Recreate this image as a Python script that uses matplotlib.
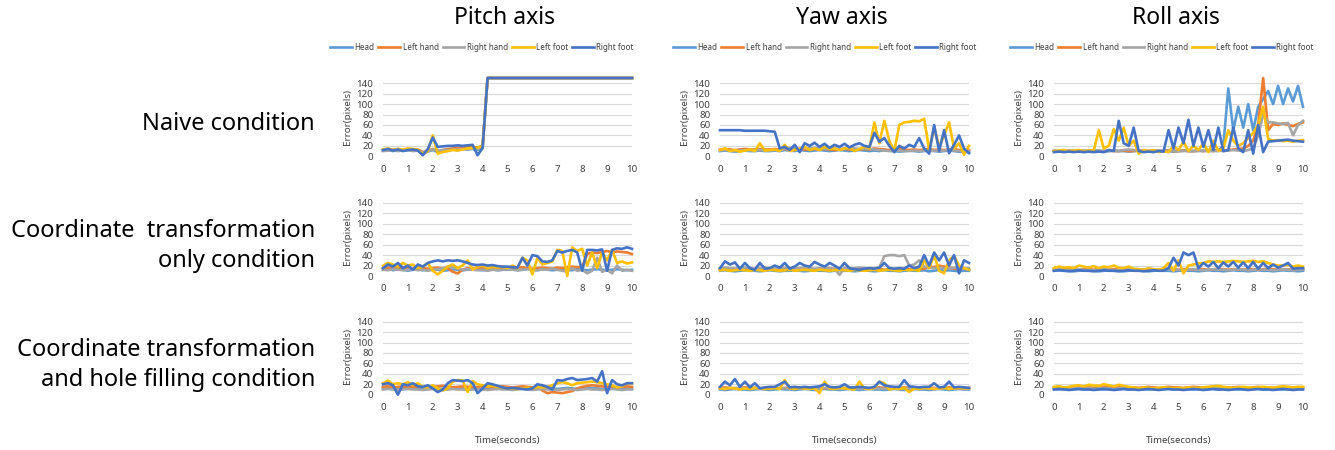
import numpy as np
import matplotlib.pyplot as plt

plt.rcParams['font.family'] = ['Noto Sans', 'DejaVu Sans']

# time axis, one sample every 0.2 s
time_s = np.arange(51) * 0.2

series_names = ["Head", "Left hand", "Right hand", "Left foot", "Right foot"]
series_colors = ["#5B9BD5", "#ED7D31", "#A5A5A5", "#FFC000", "#4472C4"]
axis_titles = ["Pitch axis", "Yaw axis", "Roll axis"]
row_labels = ["Naive condition",
              "Coordinate  transformation\nonly condition",
              "Coordinate transformation\nand hole filling condition"]
y_ticks = [0, 20, 40, 60, 80, 100, 120, 140]
x_ticks = [0, 1, 2, 3, 4, 5, 6, 7, 8, 9, 10]

# ---- naive condition ----
naive_pitch_head = [11, 12, 10, 12, 11, 12, 13, 11, 6, 9,
                    12, 8, 10, 12, 13, 12, 14, 13, 14, 12,
                    16, 150, 150, 150, 150, 150, 150, 150, 150, 150,
                    150, 150, 150, 150, 150, 150, 150, 150, 150, 150,
                    150, 150, 150, 150, 150, 150, 150, 150, 150, 150,
                    150]
naive_pitch_lhand = [12, 13, 12, 14, 12, 13, 12, 13, 8, 11,
                     14, 10, 12, 14, 15, 16, 17, 17, 18, 17,
                     20, 150, 150, 150, 150, 150, 150, 150, 150, 150,
                     150, 150, 150, 150, 150, 150, 150, 150, 150, 150,
                     150, 150, 150, 150, 150, 150, 150, 150, 150, 150,
                     150]
naive_pitch_rhand = [10, 11, 12, 10, 11, 12, 10, 11, 7, 10,
                     13, 11, 12, 12, 13, 13, 14, 14, 15, 14,
                     18, 150, 150, 150, 150, 150, 150, 150, 150, 150,
                     150, 150, 150, 150, 150, 150, 150, 150, 150, 150,
                     150, 150, 150, 150, 150, 150, 150, 150, 150, 150,
                     150]
naive_pitch_lfoot = [13, 15, 12, 14, 13, 15, 14, 12, 4, 10,
                     40, 5, 8, 10, 12, 11, 13, 15, 16, 17,
                     18, 150, 150, 150, 150, 150, 150, 150, 150, 150,
                     150, 150, 150, 150, 150, 150, 150, 150, 150, 150,
                     150, 150, 150, 150, 150, 150, 150, 150, 150, 150,
                     150]
naive_pitch_rfoot = [12, 14, 11, 13, 10, 12, 13, 11, 2, 14,
                     36, 18, 19, 20, 20, 21, 20, 21, 22, 2,
                     16, 150, 150, 150, 150, 150, 150, 150, 150, 150,
                     150, 150, 150, 150, 150, 150, 150, 150, 150, 150,
                     150, 150, 150, 150, 150, 150, 150, 150, 150, 150,
                     150]

naive_yaw_head = [10, 11, 10, 9, 10, 11, 10, 10, 11, 10,
                  10, 11, 10, 12, 11, 10, 12, 11, 10, 11,
                  12, 11, 10, 11, 12, 11, 10, 11, 12, 11,
                  10, 11, 10, 12, 11, 10, 9, 10, 11, 10,
                  9, 10, 11, 10, 9, 10, 11, 10, 9, 8,
                  8]
naive_yaw_lhand = [13, 14, 13, 12, 13, 14, 13, 13, 14, 13,
                   13, 14, 13, 14, 13, 12, 14, 13, 13, 14,
                   13, 14, 13, 12, 13, 14, 13, 14, 13, 14,
                   13, 15, 14, 13, 12, 13, 14, 13, 12, 13,
                   12, 13, 14, 12, 13, 12, 13, 14, 12, 12,
                   12]
naive_yaw_rhand = [11, 12, 11, 10, 11, 12, 11, 11, 12, 11,
                   11, 12, 11, 15, 16, 15, 14, 16, 15, 16,
                   15, 14, 16, 15, 14, 15, 16, 15, 14, 15,
                   14, 13, 12, 11, 10, 10, 11, 10, 10, 11,
                   10, 11, 10, 11, 10, 11, 12, 11, 10, 11,
                   10]
naive_yaw_lfoot = [12, 15, 10, 12, 9, 11, 13, 10, 25, 11,
                   12, 13, 10, 22, 10, 12, 15, 18, 12, 15,
                   12, 18, 14, 15, 12, 15, 16, 10, 14, 18,
                   15, 65, 25, 68, 30, 10, 60, 65, 66, 68,
                   67, 72, 12, 55, 18, 40, 65, 15, 25, 3,
                   20]
naive_yaw_rfoot = [50, 50, 50, 50, 50, 49, 49, 49, 49, 49,
                   48, 47, 15, 18, 12, 22, 8, 25, 20, 26,
                   18, 24, 16, 22, 18, 24, 17, 22, 25, 20,
                   18, 45, 28, 35, 20, 8, 20, 15, 22, 18,
                   35, 15, 5, 60, 10, 50, 6, 22, 40, 15,
                   6]

naive_roll_head = [10, 9, 10, 11, 10, 9, 10, 10, 11, 10,
                   9, 10, 11, 10, 10, 9, 10, 11, 10, 9,
                   10, 10, 11, 10, 9, 10, 11, 10, 10, 11,
                   10, 12, 11, 10, 20, 130, 50, 95, 55, 100,
                   50, 95, 110, 125, 100, 135, 100, 130, 105, 135,
                   95]
naive_roll_lhand = [10, 10, 11, 10, 10, 11, 10, 10, 11, 10,
                    10, 11, 10, 10, 11, 10, 10, 11, 10, 10,
                    11, 10, 10, 11, 10, 10, 11, 10, 10, 11,
                    10, 11, 10, 12, 11, 12, 13, 14, 15, 20,
                    30, 60, 150, 50, 62, 60, 63, 60, 58, 62,
                    65]
naive_roll_rhand = [11, 10, 10, 11, 10, 10, 11, 10, 10, 11,
                    10, 10, 11, 10, 12, 13, 12, 10, 11, 10,
                    10, 11, 10, 10, 11, 10, 10, 11, 10, 10,
                    11, 10, 10, 11, 10, 11, 12, 11, 10, 12,
                    15, 40, 80, 65, 65, 63, 62, 64, 40, 60,
                    68]
naive_roll_lfoot = [10, 11, 12, 10, 11, 12, 10, 11, 12, 50,
                    15, 20, 52, 30, 55, 20, 30, 5, 12, 10,
                    12, 8, 10, 8, 20, 12, 28, 10, 20, 12,
                    25, 8, 30, 10, 15, 50, 30, 20, 25, 35,
                    45, 60, 95, 33, 30, 31, 29, 30, 28, 30,
                    31]
naive_roll_rfoot = [8, 9, 8, 9, 8, 9, 8, 9, 8, 9,
                    8, 12, 10, 68, 25, 20, 55, 10, 8, 9,
                    8, 10, 9, 50, 15, 55, 25, 70, 20, 55,
                    18, 50, 12, 55, 10, 12, 55, 15, 8, 50,
                    5, 60, 8, 28, 29, 30, 31, 32, 30, 29,
                    28]

# ---- coordinate transformation only ----
coord_pitch_head = [12, 14, 11, 13, 12, 10, 12, 13, 11, 12,
                    13, 12, 10, 11, 13, 12, 11, 12, 13, 12,
                    11, 12, 13, 11, 12, 12, 13, 11, 12, 14,
                    12, 11, 13, 12, 11, 12, 14, 12, 11, 13,
                    12, 11, 12, 13, 12, 11, 12, 13, 12, 11,
                    12]
coord_pitch_lhand = [15, 16, 14, 15, 17, 15, 14, 16, 15, 14,
                     15, 16, 14, 15, 8, 5, 12, 15, 14, 16,
                     15, 14, 15, 16, 15, 14, 15, 16, 17, 15,
                     14, 15, 16, 15, 14, 16, 15, 17, 18, 17,
                     18, 42, 45, 44, 46, 48, 45, 47, 46, 45,
                     42]
coord_pitch_rhand = [12, 11, 13, 12, 11, 12, 13, 11, 12, 10,
                     12, 13, 15, 18, 16, 14, 12, 13, 12, 11,
                     12, 10, 12, 11, 12, 13, 12, 11, 12, 13,
                     12, 11, 13, 12, 14, 12, 10, 8, 15, 10,
                     12, 5, 10, 35, 8, 12, 5, 20, 10, 12,
                     10]
coord_pitch_lfoot = [20, 25, 22, 18, 25, 20, 22, 15, 18, 25,
                     10, 3, 10, 18, 22, 15, 20, 30, 12, 18,
                     20, 15, 18, 16, 18, 15, 20, 15, 35, 30,
                     3, 35, 22, 25, 28, 50, 48, 0, 55, 48,
                     52, 20, 45, 15, 45, 30, 50, 25, 28, 24,
                     26]
coord_pitch_rfoot = [15, 22, 18, 25, 15, 20, 12, 22, 18, 25,
                     28, 30, 28, 30, 29, 30, 28, 25, 22, 21,
                     22, 20, 21, 19, 18, 18, 17, 16, 35, 20,
                     40, 38, 28, 27, 30, 48, 45, 48, 50, 45,
                     10, 50, 50, 49, 51, 10, 50, 53, 52, 55,
                     52]

coord_yaw_head = [10, 11, 10, 9, 10, 11, 10, 10, 9, 10,
                  11, 10, 9, 10, 10, 11, 10, 9, 10, 11,
                  10, 10, 9, 10, 11, 10, 10, 9, 10, 11,
                  10, 9, 10, 11, 10, 10, 9, 10, 11, 10,
                  10, 11, 9, 10, 12, 10, 11, 10, 9, 10,
                  10]
coord_yaw_lhand = [13, 12, 13, 14, 13, 12, 13, 12, 14, 13,
                   12, 13, 14, 12, 13, 13, 12, 14, 13, 12,
                   13, 12, 13, 14, 13, 12, 13, 12, 14, 13,
                   12, 13, 14, 12, 13, 13, 12, 14, 13, 12,
                   13, 14, 18, 17, 20, 18, 16, 14, 13, 14,
                   13]
coord_yaw_rhand = [15, 16, 15, 14, 15, 16, 15, 14, 15, 16,
                   15, 14, 15, 16, 15, 14, 15, 16, 15, 14,
                   15, 16, 15, 14, 2, 16, 14, 15, 16, 15,
                   14, 15, 16, 38, 40, 40, 38, 40, 20, 22,
                   30, 18, 16, 15, 16, 15, 14, 16, 15, 14,
                   15]
coord_yaw_lfoot = [11, 12, 10, 11, 12, 11, 10, 12, 11, 10,
                   12, 11, 10, 11, 12, 10, 11, 12, 11, 10,
                   12, 11, 10, 11, 12, 11, 10, 12, 11, 10,
                   11, 12, 10, 11, 12, 11, 10, 12, 11, 12,
                   10, 30, 15, 40, 10, 5, 30, 38, 20, 15,
                   12]
coord_yaw_rfoot = [15, 28, 22, 26, 14, 25, 15, 12, 25, 14,
                   15, 20, 16, 25, 14, 18, 25, 20, 18, 27,
                   22, 18, 25, 20, 14, 25, 15, 13, 12, 14,
                   15, 14, 16, 25, 15, 14, 15, 14, 20, 15,
                   18, 40, 20, 45, 30, 45, 20, 40, 5, 30,
                   25]

coord_roll_head = [10, 11, 10, 10, 9, 10, 11, 10, 10, 9,
                   10, 11, 10, 10, 9, 10, 11, 10, 10, 9,
                   10, 11, 10, 10, 9, 10, 11, 10, 10, 9,
                   10, 11, 10, 10, 9, 10, 11, 10, 10, 9,
                   10, 11, 10, 10, 9, 10, 11, 10, 10, 9,
                   10]
coord_roll_lhand = [13, 12, 13, 14, 13, 12, 13, 13, 12, 14,
                    13, 12, 13, 14, 13, 12, 13, 13, 12, 14,
                    13, 12, 13, 14, 13, 12, 13, 13, 12, 14,
                    13, 12, 13, 14, 13, 12, 13, 13, 12, 14,
                    13, 12, 13, 14, 13, 12, 13, 13, 12, 14,
                    13]
coord_roll_rhand = [12, 13, 12, 11, 12, 13, 12, 12, 11, 12,
                    13, 12, 11, 12, 13, 12, 12, 11, 12, 13,
                    12, 11, 12, 13, 12, 12, 11, 12, 13, 12,
                    11, 12, 13, 12, 12, 11, 12, 13, 12, 11,
                    12, 13, 12, 12, 11, 12, 13, 12, 11, 12,
                    12]
coord_roll_lfoot = [15, 18, 16, 17, 15, 20, 18, 16, 19, 15,
                    18, 17, 20, 16, 15, 18, 14, 13, 12, 14,
                    13, 12, 15, 25, 10, 30, 5, 20, 22, 24,
                    25, 28, 27, 28, 27, 28, 29, 28, 27, 28,
                    29, 27, 28, 25, 22, 20, 20, 22, 18, 20,
                    18]
coord_roll_rfoot = [10, 11, 10, 9, 10, 11, 10, 10, 9, 10,
                    11, 10, 10, 9, 10, 11, 10, 10, 9, 10,
                    11, 10, 10, 15, 35, 20, 45, 40, 45, 15,
                    25, 18, 27, 15, 26, 18, 27, 16, 26, 15,
                    27, 14, 25, 15, 22, 16, 20, 25, 14, 15,
                    15]

# ---- coordinate transformation + hole filling ----
hole_pitch_head = [12, 13, 12, 11, 12, 13, 12, 12, 11, 12,
                   13, 12, 11, 12, 13, 12, 12, 11, 12, 13,
                   12, 11, 12, 13, 12, 12, 11, 12, 13, 12,
                   11, 12, 13, 12, 12, 11, 12, 13, 12, 11,
                   12, 13, 12, 12, 11, 12, 13, 12, 11, 12,
                   12]
hole_pitch_lhand = [15, 16, 14, 15, 16, 15, 14, 16, 15, 14,
                    15, 16, 17, 15, 14, 15, 16, 15, 14, 15,
                    16, 15, 14, 15, 16, 15, 14, 15, 16, 15,
                    14, 15, 8, 3, 5, 4, 3, 5, 7, 12,
                    15, 17, 18, 17, 16, 15, 15, 14, 15, 16,
                    15]
hole_pitch_rhand = [10, 11, 10, 9, 10, 11, 10, 10, 9, 10,
                    11, 10, 9, 10, 11, 10, 10, 9, 10, 11,
                    10, 9, 10, 11, 10, 10, 9, 10, 11, 10,
                    9, 10, 11, 10, 10, 9, 10, 11, 10, 9,
                    10, 11, 10, 10, 9, 10, 11, 10, 9, 10,
                    10]
hole_pitch_lfoot = [22, 27, 20, 22, 20, 24, 18, 22, 15, 14,
                    18, 12, 8, 12, 25, 28, 27, 5, 26, 20,
                    18, 16, 17, 15, 14, 12, 12, 11, 12, 13,
                    12, 15, 14, 15, 18, 22, 24, 22, 18, 22,
                    23, 24, 25, 24, 22, 20, 18, 14, 16, 22,
                    22]
hole_pitch_rfoot = [20, 22, 18, 0, 20, 18, 22, 16, 15, 18,
                    12, 5, 10, 22, 28, 27, 26, 28, 22, 3,
                    12, 22, 20, 17, 14, 12, 13, 12, 11, 10,
                    12, 20, 18, 15, 10, 28, 27, 30, 32, 28,
                    29, 30, 32, 25, 45, 3, 28, 20, 18, 22,
                    22]

hole_yaw_head = [10, 9, 10, 11, 10, 10, 9, 10, 11, 10,
                 9, 10, 11, 10, 10, 9, 10, 11, 10, 9,
                 10, 11, 10, 10, 9, 10, 11, 10, 9, 10,
                 11, 10, 10, 9, 10, 11, 10, 9, 10, 11,
                 10, 10, 9, 10, 11, 10, 9, 10, 11, 10,
                 10]
hole_yaw_lhand = [13, 14, 13, 12, 13, 14, 13, 13, 12, 13,
                  14, 13, 12, 13, 14, 13, 13, 12, 13, 14,
                  13, 12, 13, 14, 13, 13, 12, 13, 14, 13,
                  12, 13, 14, 13, 13, 12, 13, 14, 13, 12,
                  13, 14, 13, 13, 12, 13, 14, 13, 12, 13,
                  13]
hole_yaw_rhand = [12, 11, 12, 13, 12, 12, 11, 12, 13, 12,
                  11, 12, 13, 12, 12, 11, 12, 13, 12, 11,
                  12, 13, 12, 12, 11, 12, 13, 12, 11, 12,
                  13, 12, 12, 11, 12, 13, 12, 11, 12, 13,
                  12, 12, 11, 12, 13, 12, 11, 12, 13, 12,
                  12]
hole_yaw_lfoot = [12, 11, 13, 12, 10, 12, 11, 13, 12, 11,
                  12, 13, 11, 28, 12, 11, 13, 12, 11, 12,
                  3, 25, 12, 11, 13, 12, 11, 10, 25, 12,
                  11, 13, 25, 22, 10, 12, 11, 13, 5, 12,
                  11, 13, 12, 11, 12, 13, 11, 12, 13, 12,
                  12]
hole_yaw_rfoot = [15, 25, 18, 30, 15, 25, 14, 22, 12, 14,
                  15, 15, 20, 25, 14, 15, 14, 15, 14, 15,
                  16, 20, 15, 14, 15, 20, 14, 14, 15, 14,
                  13, 15, 25, 18, 16, 15, 15, 28, 16, 15,
                  14, 15, 15, 22, 14, 15, 25, 14, 15, 14,
                  13]

hole_roll_head = [11, 10, 11, 12, 11, 11, 10, 11, 12, 11,
                  10, 11, 12, 11, 11, 10, 11, 12, 11, 10,
                  11, 12, 11, 11, 10, 11, 12, 11, 10, 11,
                  12, 11, 11, 10, 11, 12, 11, 10, 11, 12,
                  11, 11, 10, 11, 12, 11, 10, 11, 12, 11,
                  11]
hole_roll_lhand = [14, 15, 14, 13, 14, 15, 14, 14, 13, 14,
                   15, 14, 13, 14, 15, 14, 14, 13, 14, 15,
                   14, 13, 14, 15, 14, 14, 13, 14, 15, 14,
                   13, 14, 15, 14, 14, 13, 14, 15, 14, 13,
                   14, 15, 14, 14, 13, 14, 15, 14, 13, 14,
                   14]
hole_roll_rhand = [12, 13, 12, 11, 12, 13, 12, 12, 11, 12,
                   13, 12, 11, 12, 13, 12, 12, 11, 12, 13,
                   12, 11, 12, 13, 12, 12, 11, 12, 13, 12,
                   11, 12, 13, 12, 12, 11, 12, 13, 12, 11,
                   12, 13, 12, 12, 11, 12, 13, 12, 11, 12,
                   12]
hole_roll_lfoot = [15, 16, 14, 15, 17, 18, 16, 19, 18, 17,
                   20, 18, 16, 19, 17, 15, 14, 12, 14, 13,
                   12, 13, 14, 13, 12, 13, 12, 14, 13, 12,
                   14, 15, 16, 17, 15, 14, 13, 14, 15, 14,
                   13, 14, 15, 14, 13, 15, 16, 15, 14, 15,
                   15]
hole_roll_rfoot = [10, 11, 10, 9, 10, 11, 10, 10, 9, 10,
                   11, 10, 9, 10, 11, 10, 10, 9, 10, 11,
                   10, 9, 10, 11, 10, 10, 9, 10, 11, 10,
                   9, 10, 11, 10, 10, 9, 10, 11, 10, 9,
                   10, 11, 10, 10, 9, 10, 11, 10, 9, 10,
                   10]

panels = [
    [[naive_pitch_head, naive_pitch_lhand, naive_pitch_rhand, naive_pitch_lfoot, naive_pitch_rfoot],
     [naive_yaw_head, naive_yaw_lhand, naive_yaw_rhand, naive_yaw_lfoot, naive_yaw_rfoot],
     [naive_roll_head, naive_roll_lhand, naive_roll_rhand, naive_roll_lfoot, naive_roll_rfoot]],
    [[coord_pitch_head, coord_pitch_lhand, coord_pitch_rhand, coord_pitch_lfoot, coord_pitch_rfoot],
     [coord_yaw_head, coord_yaw_lhand, coord_yaw_rhand, coord_yaw_lfoot, coord_yaw_rfoot],
     [coord_roll_head, coord_roll_lhand, coord_roll_rhand, coord_roll_lfoot, coord_roll_rfoot]],
    [[hole_pitch_head, hole_pitch_lhand, hole_pitch_rhand, hole_pitch_lfoot, hole_pitch_rfoot],
     [hole_yaw_head, hole_yaw_lhand, hole_yaw_rhand, hole_yaw_lfoot, hole_yaw_rfoot],
     [hole_roll_head, hole_roll_lhand, hole_roll_rhand, hole_roll_lfoot, hole_roll_rfoot]],
]

W, H = 1335.0, 450.0
col_left = [383, 720, 1054]
col_width = 249
row_zero = [156.3, 276.0, 394.7]
row_height = 78.3

fig = plt.figure(figsize=(13.35, 4.5), dpi=100)

for r in range(3):
    for c in range(3):
        ax = fig.add_axes([col_left[c] / W, 1 - row_zero[r] / H,
                           col_width / W, row_height / H])
        for vals, name, color in zip(panels[r][c], series_names, series_colors):
            ax.plot(time_s, vals, color=color, lw=1.9, label=name, clip_on=False,
                    solid_joinstyle='round')
        ax.set_xlim(0, 10)
        ax.set_ylim(0, 150)
        ax.set_yticks(y_ticks)
        ax.set_xticks(x_ticks)
        ax.grid(axis='y', color='#D9D9D9', lw=0.8)
        ax.set_axisbelow(True)
        for s in ax.spines.values():
            s.set_visible(False)
        ax.tick_params(length=0, labelsize=7, colors='#404040')
        ax.tick_params(axis='x', pad=6)
        ax.tick_params(axis='y', pad=7)
        ax.set_ylabel('Error(pixels)', fontsize=7, color='#404040')
        ax.yaxis.set_label_coords(-0.125, 0.5)
        if r == 0:
            handles, labels = ax.get_legend_handles_labels()
            leg_x = [482, 825, 1162][c] / W
            fig.legend(handles, labels, loc='center', bbox_to_anchor=(leg_x, 1 - 47 / H),
                       ncol=5, frameon=False, fontsize=5.8, handlelength=2.7,
                       columnspacing=0.5, handletextpad=0.3, labelcolor='#404040',
                       borderpad=0.2)
        if r == 2:
            fig.text((col_left[c] + col_width / 2) / W, 1 - 440 / H, 'Time(seconds)',
                     ha='center', va='center', fontsize=7, color='#404040')

for c, title in enumerate(axis_titles):
    fig.text((col_left[c] + col_width / 2 - 3) / W, 1 - 18 / H, title,
             ha='center', va='center', fontsize=16.5)

row_y = [124, 246, 365]
for r, lab in enumerate(row_labels):
    fig.text(315 / W, 1 - row_y[r] / H, lab, ha='right', va='center',
             multialignment='right', fontsize=17, linespacing=1.35)

fig.savefig('out.png', dpi=100)
